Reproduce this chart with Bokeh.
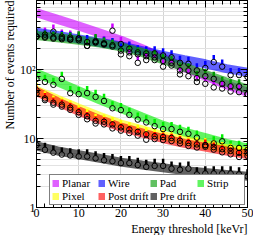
from bokeh.plotting import figure
from bokeh.models import (Range1d, FixedTicker, LogAxis, LinearAxis, Legend,
                          LegendItem, Title, ColumnDataSource)
from bokeh.embed import file_html
from bokeh.resources import INLINE

FONT = "Liberation Serif"

# ---------------- data ----------------
names = ["Planar", "Wire", "Pad", "Strip", "Pixel", "Post drift", "Pre drift"]
colors = ["#cc00ff", "#0000ff", "#009900", "#00ee00", "#ffff00", "#ff0000", "#000000"]

x_fit = [0, 5, 10, 15, 20, 25, 30, 35, 40, 45, 50]
planar_fit = [664, 532, 427, 337, 266, 200, 146, 107, 80, 60, 47]
wire_fit = [348, 311, 277, 246, 220, 188, 160, 139, 121, 103, 91]
pad_fit = [311, 288, 266, 242, 213, 177, 139, 108, 85, 66, 52]
strip_fit = [88, 66, 49, 36.3, 27.4, 20.5, 15.5, 12.4, 10.3, 8.5, 7.3]
pixel_fit = [50, 37, 27.5, 20.8, 16.2, 13.3, 11.0, 9.3, 8.1, 7.1, 6.3]
post_fit = [48, 34, 25, 18.8, 14.6, 12.1, 10, 8.5, 7.5, 6.6, 5.85]
pre_fit = [7.8, 6.6, 5.85, 5.16, 4.54, 4.13, 3.76, 3.42, 3.21, 3.02, 2.83]

x_pts = [0, 2, 4, 6, 8, 10, 12, 14, 16, 18, 20, 22, 24, 26, 28, 30, 32, 34, 36, 38,
         40, 42, 44, 46, 48, 50]
planar_pts = [300, 320, 353, 300, 290, 280, 220, 250, 240, 365, 234, 156, 125, 137,
              137, 110, 114, 85, 80, 66, 62, 55, 53, 48, 47, 44]
wire_pts = [301, 300, 290, 285, 275, 265, 250, 245, 235, 225, 188, 200, 177, 171,
            171, 160, 150, 125, 121, 97, 105, 128, 110, 83, 83, 78]
pad_pts = [300, 290, 280, 275, 270, 283, 220, 258, 230, 215, 166, 177, 166, 156,
           150, 133, 125, 97, 97, 75, 80, 73, 62, 57, 57, 44]
strip_pts = [73, 66, 60, 73, 45.5, 44, 45.5, 40, 35, 27.4, 25.8, 22, 18.8, 17.1,
             15.1, 13.7, 13.7, 12.5, 11.7, 10.3, 8.0, 8.5, 9.1, 7.3, 7.3, 6.85]
pixel_pts = [50, 38, 33, 31, 28, 24, 21, 18, 17.5, 16, 14.5, 13.5, 12.5, 11.5, 10.8,
             10.5, 10.2, 9.3, 8.6, 8.2, 8.0, 7.5, 7.0, 6.6, 6.2, 6.2]
post_pts = [45, 36, 31, 29, 26, 22, 19, 16.5, 16, 14, 13, 12, 11, 9.6, 9.8, 9.5,
            9.2, 8.5, 7.8, 7.4, 7.6, 6.9, 6.3, 5.9, 5.4, 5.6]
pre_pts = [8.02, 6.85, 6.23, 5.85, 5.67, 5.49, 5.49, 5.16, 4.84, 4.69, 4.40, 4.40,
           4.13, 3.88, 4.01, 4.01, 3.65, 3.53, 3.65, 3.02, 3.11, 3.11, 3.11, 3.11,
           3.02, 2.83]

x_ticks = [0, 10, 20, 30, 40, 50]
y_ticks = [1, 10, 100, 1000]
y_tick_labels = {1: "1", 10: "10", 100: "10\u00b2", 1000: ""}
x_title = "Energy threshold [keVr]"
y_title = "Number of events required"

fits = [planar_fit, wire_fit, pad_fit, strip_fit, pixel_fit, post_fit, pre_fit]
pts = [planar_pts, wire_pts, pad_pts, strip_pts, pixel_pts, post_pts, pre_pts]

# ---------------- figure ----------------
p = figure(width=253, height=235, x_range=Range1d(0, 50), y_range=Range1d(1, 1000),
           y_axis_type="log", output_backend="svg", toolbar_location=None,
           min_border_left=2, min_border_right=6, min_border_top=0,
           min_border_bottom=2)
p.outline_line_color = "black"
p.outline_line_width = 1
p.background_fill_color = "white"
p.border_fill_color = "white"

y_minor = [m * 10 ** k for k in range(3) for m in range(2, 10)]
x_minor = list(range(0, 51, 2))


def style_axis(ax, labels=True):
    ax.major_tick_in = 7
    ax.major_tick_out = 0
    ax.minor_tick_in = 4
    ax.minor_tick_out = 0
    ax.axis_line_color = "black"
    ax.major_tick_line_color = "black"
    ax.minor_tick_line_color = "black"
    ax.major_label_text_font = FONT
    ax.major_label_text_color = "black"
    if labels:
        ax.major_label_text_font_size = "12px"
        ax.major_label_standoff = 1
    else:
        ax.major_label_text_font_size = "0px"
        ax.major_label_standoff = 0


p.xaxis.ticker = FixedTicker(ticks=x_ticks, minor_ticks=x_minor)
p.yaxis.ticker = FixedTicker(ticks=y_ticks, minor_ticks=y_minor)
p.yaxis.major_label_overrides = y_tick_labels
for ax in p.xaxis + p.yaxis:
    style_axis(ax)

ax_r = LogAxis(ticker=FixedTicker(ticks=y_ticks, minor_ticks=y_minor))
style_axis(ax_r, labels=False)
ax_r.major_label_overrides = {1: "", 10: "", 100: "", 1000: ""}
p.add_layout(ax_r, "right")
ax_t = LinearAxis(ticker=FixedTicker(ticks=x_ticks, minor_ticks=x_minor))
style_axis(ax_t, labels=False)
ax_t.major_label_overrides = {t: "" for t in x_ticks}
p.add_layout(ax_t, "above")

p.xgrid.ticker = FixedTicker(ticks=[10, 20, 30, 40])
p.xgrid.grid_line_color = "#d4d4d4"
p.ygrid.grid_line_color = "#d8d8d8"
p.ygrid.minor_grid_line_color = "#e2e2e2"

# bands
band_renderers = []
for fit, c in zip(fits, colors):
    band_renderers.append(p.line(x_fit, fit, line_color=c, line_alpha=0.62,
                                 line_width=9))

# colored bars then circles
for vals, c in zip(pts, colors):
    src = ColumnDataSource(dict(x=x_pts, y0=[v * 1.09 for v in vals],
                                y1=[v * 1.27 for v in vals]))
    p.segment(x0="x", x1="x", y0="y0", y1="y1", source=src, line_color=c,
              line_width=2.5)
for vals in pts:
    p.scatter(x_pts, vals, marker="circle", size=5.5, line_color="black",
              fill_color=None, line_width=1)

# legend
items = [LegendItem(label=n, renderers=[r]) for n, r in zip(names, band_renderers)]
legend = Legend(items=items, location=(13, 2), orientation="horizontal", ncols=4,
                label_text_font=FONT, label_text_font_size="11px",
                label_text_color="black",
                glyph_width=7, glyph_height=7, label_standoff=3, spacing=1,
                padding=2, margin=0, label_height=9, label_width=35,
                border_line_color="black", border_line_width=1,
                background_fill_color="white", background_fill_alpha=1)
p.add_layout(legend, "center")

p.add_layout(Title(text=x_title, align="right", text_font=FONT,
                   text_font_size="12px", text_font_style="normal",
                   text_color="black", standoff=0, offset=0), "below")
p.add_layout(Title(text=y_title, align="right", text_font=FONT,
                   text_font_size="12px", text_font_style="normal",
                   text_color="black", standoff=0, offset=0), "left")

open("out.html", "w").write(file_html(p, INLINE))
